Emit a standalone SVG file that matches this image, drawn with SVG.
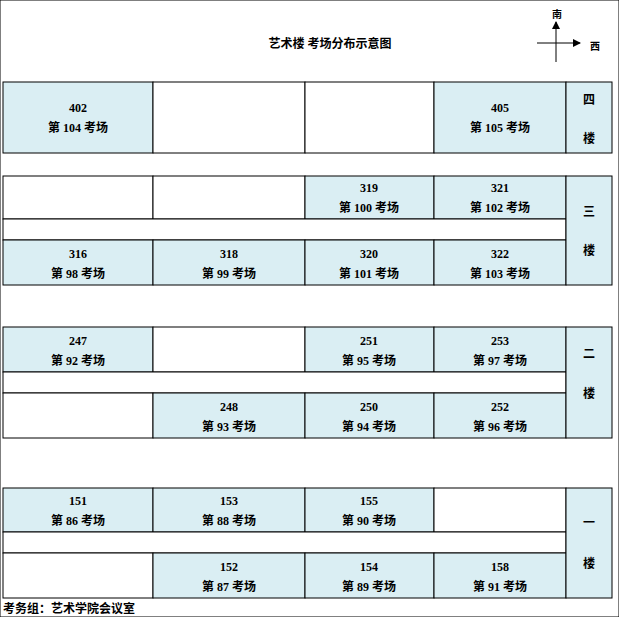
<svg xmlns="http://www.w3.org/2000/svg" width="619" height="617" viewBox="0 0 619 617">
<style>
rect{stroke:#000;stroke-width:1}
.b{fill:#daeef3}.w{fill:#fff}
text{font-family:"Liberation Serif","Noto Sans CJK SC",serif;font-size:12px;font-weight:bold;text-anchor:middle;fill:#000}
.s{font-size:10px}
</style>
<defs><marker id="a" markerWidth="8" markerHeight="8" refX="7" refY="4" orient="auto" markerUnits="userSpaceOnUse"><path d="M0,0L8,4L0,8Z"/></marker></defs>
<rect width="619" height="617" fill="#fff" stroke="none"/>
<text x="330" y="48">艺术楼 考场分布示意图</text>
<g id="compass" stroke="#000" stroke-width="1">
<line x1="556" y1="62" x2="556" y2="22" marker-end="url(#a)"/>
<line x1="537" y1="43" x2="580" y2="43" marker-end="url(#a)"/>
</g>
<text class="s" x="557" y="18" stroke="none">南</text>
<text class="s" x="595" y="50" stroke="none">西</text>
<g id="f4">
<rect class="b" x="3" y="82" width="150" height="71"/><text x="78" y="112">402</text><text x="78" y="132">第 104 考场</text>
<rect class="w" x="153" y="82" width="152" height="71"/>
<rect class="w" x="305" y="82" width="129" height="71"/>
<rect class="b" x="434" y="82" width="132" height="71"/><text x="500" y="112">405</text><text x="500" y="132">第 105 考场</text>
<rect class="b" x="566" y="82" width="46" height="71"/><text x="589" y="104">四</text><text x="589" y="143">楼</text>
</g>
<g id="f3">
<rect class="w" x="3" y="176" width="150" height="43"/>
<rect class="w" x="153" y="176" width="152" height="43"/>
<rect class="b" x="305" y="176" width="129" height="43"/><text x="369" y="192">319</text><text x="369" y="212">第 100 考场</text>
<rect class="b" x="434" y="176" width="132" height="43"/><text x="500" y="192">321</text><text x="500" y="212">第 102 考场</text>
<rect class="w" x="3" y="219" width="563" height="21"/>
<rect class="b" x="3" y="240" width="150" height="45"/><text x="78" y="258">316</text><text x="78" y="278">第 98 考场</text>
<rect class="b" x="153" y="240" width="152" height="45"/><text x="229" y="258">318</text><text x="229" y="278">第 99 考场</text>
<rect class="b" x="305" y="240" width="129" height="45"/><text x="369" y="258">320</text><text x="369" y="278">第 101 考场</text>
<rect class="b" x="434" y="240" width="132" height="45"/><text x="500" y="258">322</text><text x="500" y="278">第 103 考场</text>
<rect class="b" x="566" y="176" width="46" height="109"/><text x="589" y="216">三</text><text x="589" y="255">楼</text>
</g>
<g id="f2">
<rect class="b" x="3" y="327" width="150" height="45"/><text x="78" y="345">247</text><text x="78" y="365">第 92 考场</text>
<rect class="w" x="153" y="327" width="152" height="45"/>
<rect class="b" x="305" y="327" width="129" height="45"/><text x="369" y="345">251</text><text x="369" y="365">第 95 考场</text>
<rect class="b" x="434" y="327" width="132" height="45"/><text x="500" y="345">253</text><text x="500" y="365">第 97 考场</text>
<rect class="w" x="3" y="372" width="563" height="21"/>
<rect class="w" x="3" y="393" width="150" height="45"/>
<rect class="b" x="153" y="393" width="152" height="45"/><text x="229" y="411">248</text><text x="229" y="431">第 93 考场</text>
<rect class="b" x="305" y="393" width="129" height="45"/><text x="369" y="411">250</text><text x="369" y="431">第 94 考场</text>
<rect class="b" x="434" y="393" width="132" height="45"/><text x="500" y="411">252</text><text x="500" y="431">第 96 考场</text>
<rect class="b" x="566" y="327" width="46" height="111"/><text x="589" y="358">二</text><text x="589" y="398">楼</text>
</g>
<g id="f1">
<rect class="b" x="3" y="488" width="150" height="44"/><text x="78" y="505">151</text><text x="78" y="525">第 86 考场</text>
<rect class="b" x="153" y="488" width="152" height="44"/><text x="229" y="505">153</text><text x="229" y="525">第 88 考场</text>
<rect class="b" x="305" y="488" width="129" height="44"/><text x="369" y="505">155</text><text x="369" y="525">第 90 考场</text>
<rect class="w" x="434" y="488" width="132" height="44"/>
<rect class="w" x="3" y="532" width="563" height="21"/>
<rect class="w" x="3" y="553" width="150" height="45"/>
<rect class="b" x="153" y="553" width="152" height="45"/><text x="229" y="571">152</text><text x="229" y="591">第 87 考场</text>
<rect class="b" x="305" y="553" width="129" height="45"/><text x="369" y="571">154</text><text x="369" y="591">第 89 考场</text>
<rect class="b" x="434" y="553" width="132" height="45"/><text x="500" y="571">158</text><text x="500" y="591">第 91 考场</text>
<rect class="b" x="566" y="488" width="46" height="110"/><text x="589" y="527">一</text><text x="589" y="568">楼</text>
</g>
<text x="3" y="613" style="text-anchor:start">考务组：艺术学院会议室</text>
</svg>
